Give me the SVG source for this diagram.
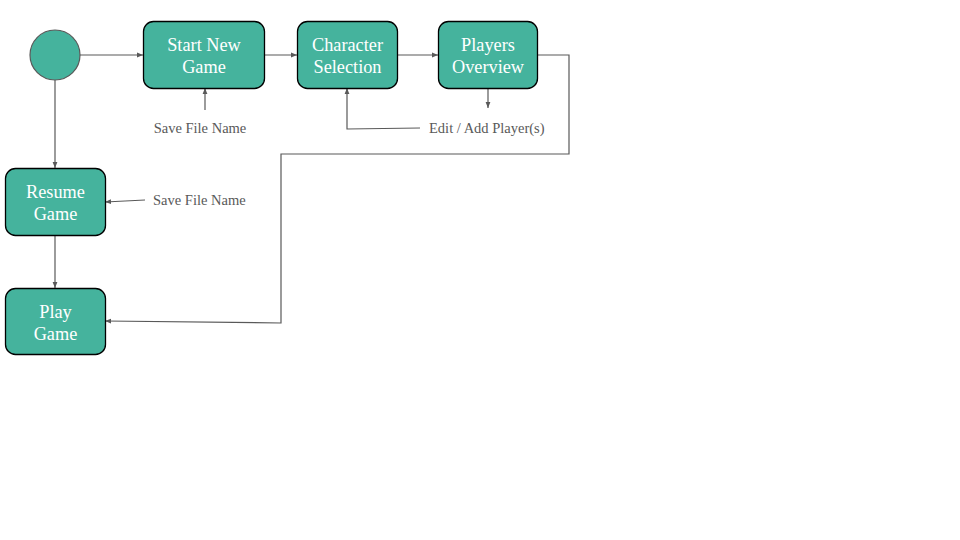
<svg xmlns="http://www.w3.org/2000/svg" width="960" height="540" viewBox="0 0 960 540">
<defs>
<style>
.node{fill:#45b39d;stroke:#000;stroke-width:1.3}
.nt{font-family:"Liberation Serif",serif;font-size:18.3px;fill:#fff;text-anchor:middle}
.lbl{font-family:"Liberation Serif",serif;font-size:14.5px;fill:#595959}
.c{fill:none;stroke:#595959;stroke-width:1.2;marker-end:url(#ah)}
</style>
<marker id="ah" viewBox="0 0 10 10" refX="10" refY="5" markerWidth="6" markerHeight="6" orient="auto" markerUnits="userSpaceOnUse"><path d="M0,1 L10,5 L0,9 z" fill="#595959"/></marker>
</defs>
<rect width="960" height="540" fill="#fff"/>
<g id="connectors">
<path class="c" d="M80,55 L143,55"/>
<path class="c" d="M55,80 L55,168"/>
<path class="c" d="M264,55 L297,55"/>
<path class="c" d="M397,55 L438,55"/>
<path class="c" d="M537,55 L569,55 L569,154 L281,154 L281,323 L105,321"/>
<path class="c" d="M488,88 L488,108"/>
<path class="c" d="M205,110 L205,88"/>
<path class="c" d="M420,128 L347,129 L347,88"/>
<path class="c" d="M145,200 L105,202"/>
<path class="c" d="M55,235 L55,288"/>
</g>
<g id="start"><circle cx="55" cy="55" r="25" fill="#45b39d" stroke="#595959" stroke-width="1.2"/></g>
<g id="startNewGame"><rect class="node" x="143.5" y="21.5" width="121" height="67" rx="10"/><text class="nt" x="204" y="51">Start New</text><text class="nt" x="204" y="73">Game</text></g>
<g id="characterSelection"><rect class="node" x="297.5" y="21.5" width="100" height="67" rx="10"/><text class="nt" x="347.5" y="51">Character</text><text class="nt" x="347.5" y="73">Selection</text></g>
<g id="playersOverview"><rect class="node" x="438.5" y="21.5" width="99" height="67" rx="10"/><text class="nt" x="488" y="51">Players</text><text class="nt" x="488" y="73">Overview</text></g>
<g id="resumeGame"><rect class="node" x="5.5" y="168.5" width="100" height="67" rx="10"/><text class="nt" x="55.5" y="198">Resume</text><text class="nt" x="55.5" y="220">Game</text></g>
<g id="playGame"><rect class="node" x="5.5" y="288.5" width="100" height="66" rx="10"/><text class="nt" x="55.5" y="318">Play</text><text class="nt" x="55.5" y="340">Game</text></g>
<g id="labels">
<text class="lbl" x="200" y="133" text-anchor="middle">Save File Name</text>
<text class="lbl" x="429" y="133">Edit / Add Player(s)</text>
<text class="lbl" x="153" y="205">Save File Name</text>
</g>
</svg>
